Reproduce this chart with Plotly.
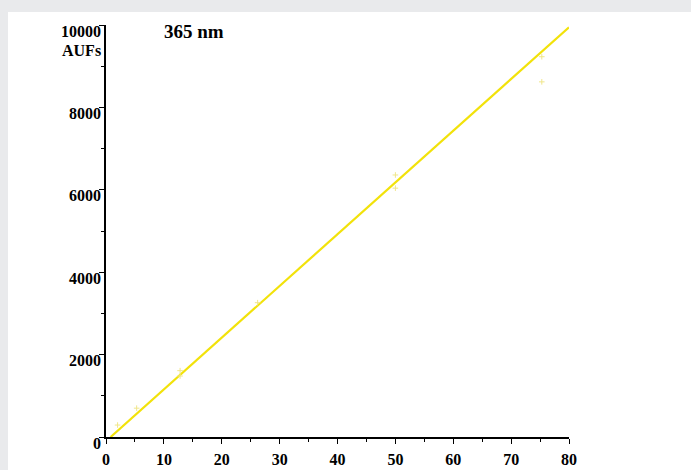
import plotly.graph_objects as go

# measured points (faint yellow crosses)
conc = [2, 5.3, 12.8, 12.8, 26.2, 50, 50, 75.3, 75.3]
signal = [290, 700, 1610, 1480, 3260, 6360, 6040, 9230, 8620]

# fitted calibration line (end points)
fit_x = [0.8, 80]
fit_y = [0, 9944]

x_ticks = [0, 10, 20, 30, 40, 50, 60, 70, 80]
y_ticks = [0, 2000, 4000, 6000, 8000, 10000]

title_text = "365 nm"
unit_text = "AUFs"

FONT = "Liberation Serif"

fig = go.Figure()
fig.add_trace(go.Scatter(
    x=fit_x, y=fit_y, mode="lines",
    line=dict(color="#f2e20a", width=2.2),
    showlegend=False, hoverinfo="skip", cliponaxis=False,
))
fig.add_trace(go.Scatter(
    x=conc, y=signal, mode="markers",
    marker=dict(symbol="cross-thin", size=4, color="#f0e68a",
                line=dict(color="#f0e68a", width=1)),
    showlegend=False, cliponaxis=False,
))

W, H = 691, 470
L, R, T, B = 106, 122, 25, 33
pw, ph = W - L - R, H - T - B

def px(xp):
    return (xp - L) / pw

def py(yp):
    return (H - B - yp) / ph

# white panel over light-grey page background
fig.add_shape(type="rect", xref="paper", yref="paper",
              x0=px(8), x1=px(W + 5), y0=py(H + 5), y1=py(12),
              fillcolor="white", line=dict(width=0), layer="below")

fig.add_annotation(text=f"<b>{unit_text}</b>", xref="paper", yref="paper",
                   x=px(81), y=py(51), xanchor="center", yanchor="middle",
                   showarrow=False,
                   font=dict(family=FONT, size=16, color="black"))
fig.add_annotation(text=f"<b>{title_text}</b>", xref="paper", yref="paper",
                   x=px(194), y=py(32), xanchor="center", yanchor="middle",
                   showarrow=False,
                   font=dict(family=FONT, size=19, color="black"))

tickfont = dict(family=FONT, size=16, color="black", weight="bold")

fig.update_layout(
    width=W, height=H,
    margin=dict(l=L, r=R, t=T, b=B, autoexpand=False),
    paper_bgcolor="#e9eaec",
    plot_bgcolor="white",
    xaxis=dict(
        range=[0, 80], tickvals=x_ticks, ticktext=[str(v) for v in x_ticks],
        showgrid=False, zeroline=False, showline=True, linecolor="black",
        linewidth=1.5, ticks="outside", ticklen=5, tickcolor="black",
        tickwidth=1.3, tickfont=tickfont, ticklabelstandoff=2,
        automargin=False,
        minor=dict(dtick=5, tick0=0, ticks="outside", ticklen=3,
                   tickcolor="black", showgrid=False),
    ),
    yaxis=dict(
        range=[0, 10000], tickvals=y_ticks, ticktext=[str(v) for v in y_ticks],
        showgrid=False, zeroline=False, showline=True, linecolor="black",
        linewidth=1.5, ticks="outside", ticklen=5, tickcolor="black",
        tickwidth=1.3, tickfont=tickfont, automargin=False,
        ticklabelshift=6, ticklabelstandoff=-5,
        minor=dict(dtick=1000, tick0=0, ticks="outside", ticklen=3,
                   tickcolor="black", showgrid=False),
    ),
)

fig.write_html(
    "out.html",
    config={"displayModeBar": False},
    post_script="document.body.style.margin='0';document.body.style.overflow='hidden';",
)
